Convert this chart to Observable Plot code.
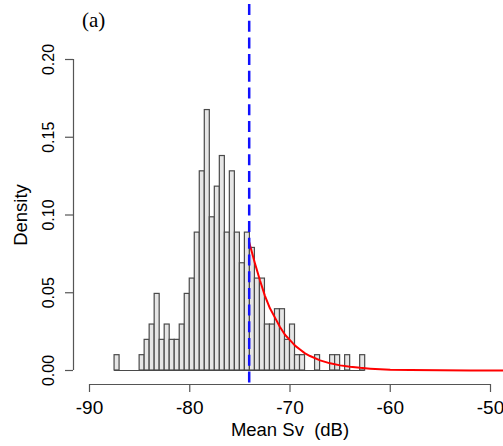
<!DOCTYPE html>
<html><head><meta charset="utf-8">
<script src="https://cdn.jsdelivr.net/npm/d3@7"></script>
<script src="https://cdn.jsdelivr.net/npm/@observablehq/plot@0.6"></script>
<style>
html,body{margin:0;padding:0;background:#fff;overflow:hidden;}
#wrap{position:relative;width:503px;height:446px;overflow:hidden;}
#tag{position:absolute;left:82px;top:10px;line-height:1;font-family:"Liberation Serif","Times New Roman",serif;font-size:21px;color:#000;}
svg text{white-space:pre;}
</style></head><body>
<div id="wrap"><div id="tag">(a)</div></div>
<script>
// Histogram bins (left edges, dB) and counts
const binLefts = [-87.5,-87,-86.5,-86,-85.5,-85,-84.5,-84,-83.5,-83,-82.5,-82,-81.5,-81,-80.5,-80,-79.5,-79,-78.5,-78,-77.5,-77,-76.5,-76,-75.5,-75,-74.5,-74,-73.5,-73,-72.5,-72,-71.5,-71,-70.5,-70,-69.5,-69,-68.5,-68,-67.5,-67,-66.5,-66,-65.5,-65,-64.5,-64,-63.5,-63];
const counts   = [1,0,0,0,0,1,2,3,5,2,3,2,2,3,5,6,9,13,17,10,12,14,9,13,9,7,9,8,6,6,3,3,4,4,2,3,1,1,0,0,1,0,0,1,1,0,1,0,0,1];
const binWidth = 0.5;
// Threshold (dashed line)
const threshold = -74.07;
// Fitted tail curve
const fitX = [-74.07,-73.5,-73,-72.5,-72,-71.5,-71,-70.5,-70,-69.5,-69,-68.5,-68,-67,-66,-65,-64,-63,-62,-61,-60,-58,-55,-52,-48.4];
const fitY = [0.0825,0.069,0.058,0.048,0.040,0.034,0.028,0.023,0.0195,0.016,0.0135,0.011,0.0093,0.0065,0.0046,0.0033,0.0024,0.0017,0.0012,0.0008,0.0005,0.0003,0.0001,0.00005,0];
// Axes
const xTicks = [-90,-80,-70,-60,-50];
const yTicks = [0,0.05,0.10,0.15,0.20];
const yTickLabels = ["0.00","0.05","0.10","0.15","0.20"];
const xLabel = "Mean Sv  (dB)";
const yLabel = "Density";

const total = d3.sum(counts);
const bins = binLefts.map((x,i)=>({x1:x, x2:x+binWidth, density: counts[i]/(total*binWidth)}));
const fit = fitX.map((x,i)=>({x, y: fitY[i]}));
const axisCol = "#555";

const chart = Plot.plot({
  width:503, height:446,
  marginLeft:89, marginRight:13, marginTop:59, marginBottom:76,
  x:{domain:[xTicks[0], xTicks[xTicks.length-1]]},
  y:{domain:[yTicks[0], yTicks[yTicks.length-1]]},
  style:{fontFamily:"'Liberation Sans', Arial, sans-serif", background:"white", color:"black"},
  marks:[
    Plot.ruleY([0], {x1: binLefts[0], x2: binLefts[binLefts.length-1]+binWidth, stroke:"#4a4a4a", strokeWidth:1.2}),
    Plot.rectY(bins.filter(d=>d.density>0), {x1:"x1", x2:"x2", y:"density", fill:"#e6e6e6", stroke:"#4a4a4a", strokeWidth:1.2}),
    Plot.line(fit, {x:"x", y:"y", stroke:"#ff0000", strokeWidth:2}),
    Plot.ruleX([threshold], {stroke:"#1010ff", strokeWidth:2.5, strokeDasharray:"11,5.7", insetTop:-55, insetBottom:-14}),
    // x axis (R style, offset below)
    Plot.ruleY([0], {x1: xTicks[0], x2: xTicks[xTicks.length-1], dy:14, stroke:axisCol, strokeWidth:1.2}),
    Plot.axisX({ticks: xTicks, tickSize: 8, dy: 14, tickFormat: () => "", label: null, stroke: axisCol, strokeWidth:1.2}),
    Plot.text(xTicks, {x: d=>d, text: d=>String(d), frameAnchor:"bottom", dy:37, lineAnchor:"middle", fontSize:19, fill:"black"}),
    Plot.text([xLabel], {frameAnchor:"bottom", dy:60, lineAnchor:"middle", fontSize:18.5, fill:"black"}),
    // y axis (R style, offset left)
    Plot.ruleX([xTicks[0]], {y1: yTicks[0], y2: yTicks[yTicks.length-1], dx:-16, stroke:axisCol, strokeWidth:1.2}),
    Plot.axisY({ticks: yTicks, tickSize: 8, dx: -16, tickFormat: () => "", label: null, stroke: axisCol, strokeWidth:1.2}),
    Plot.text(yTicks, {y: d=>d, text: (d,i)=>yTickLabels[i], frameAnchor:"left", dx:-40.5, rotate:-90, textAnchor:"middle", lineAnchor:"middle", fontSize:16, fill:"black"}),
    Plot.text([yLabel], {frameAnchor:"left", dx:-68.4, rotate:-90, textAnchor:"middle", lineAnchor:"middle", fontSize:18.5, fill:"black"})
  ]
});
document.getElementById("wrap").appendChild(chart);
</script>
</body></html>
